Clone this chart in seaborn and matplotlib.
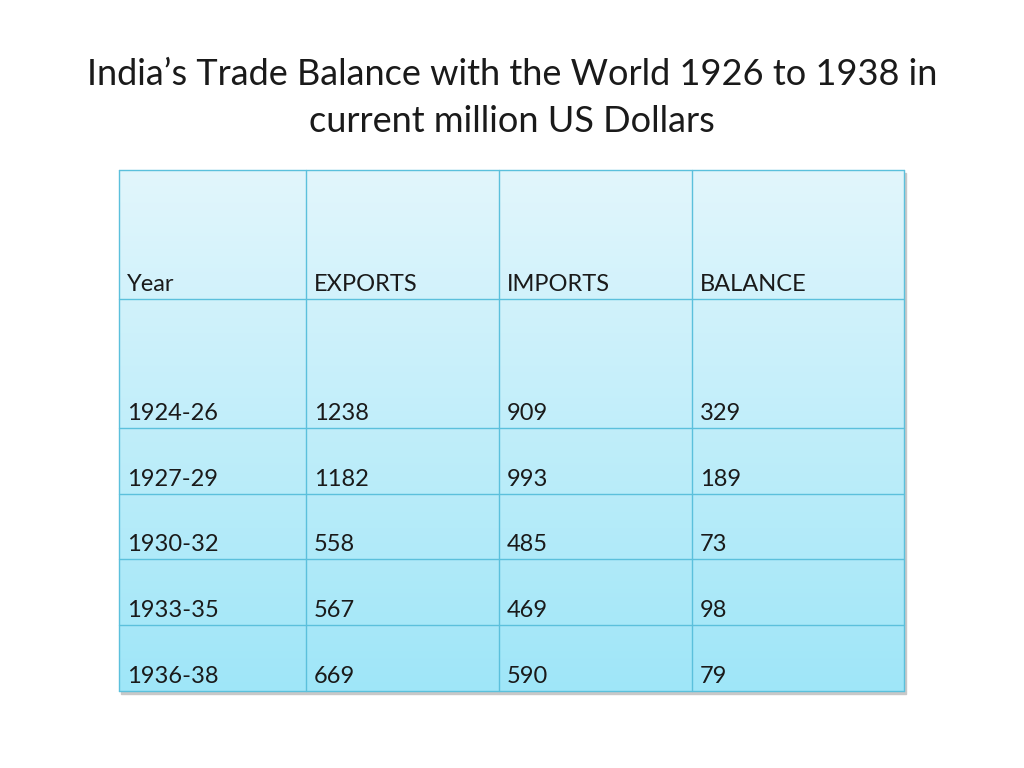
import numpy as np
import matplotlib.pyplot as plt
import seaborn as sns

# Table data
years = ["1924-26", "1927-29", "1930-32", "1933-35", "1936-38"]
exports = [1238, 1182, 558, 567, 669]
imports = [909, 993, 485, 469, 590]
balance = [329, 189, 73, 98, 79]
headers = ["Year", "EXPORTS", "IMPORTS", "BALANCE"]
title = "India\u2019s Trade Balance with the World 1926 to 1938 in\ncurrent million US Dollars"

sns.set_theme(style = "white", font = "Lato")

fig = plt.figure(figsize = (10.24, 7.68), dpi = 100)
ax = fig.add_axes([0, 0, 1, 1])
ax.set_xlim(0, 1024)
ax.set_ylim(768, 0)
ax.axis("off")

# Layout (pixels)
col_x = [119, 306, 499, 692, 904]
row_y = [170, 299, 428, 494, 559, 625, 691]

# Shadow + gradient fill
ax.add_patch(plt.Rectangle((col_x[0] + 2, row_y[0] + 3), col_x[-1] - col_x[0], row_y[-1] - row_y[0],
                           color = "#c8c8c8", zorder = 0))
grad = np.linspace(0, 1, 256).reshape(-1, 1)
cmap = sns.blend_palette(["#e2f6fc", "#9fe6f8"], as_cmap = True)
ax.imshow(grad, cmap = cmap, aspect = "auto", zorder = 1,
          extent = (col_x[0], col_x[-1], row_y[-1], row_y[0]))

# Grid lines
for x in col_x:
    ax.plot([x, x], [row_y[0], row_y[-1]], color = "#5bc0dc", lw = 1, zorder = 2)
for y in row_y:
    ax.plot([col_x[0], col_x[-1]], [y, y], color = "#5bc0dc", lw = 1, zorder = 2)

# Cell text
rows = [headers] + [[y, str(e), str(i), str(b)] for y, e, i, b in zip(years, exports, imports, balance)]
for r, row in enumerate(rows):
    for c, val in enumerate(row):
        ax.text(col_x[c] + 8, row_y[r + 1] - 8, val, fontsize = 17, color = "#1a1a1a",
                ha = "left", va = "baseline", zorder = 3)

ax.text(512, 98, title, fontsize = 26, color = "#1a1a1a", ha = "center", va = "center",
        linespacing = 1.5)

fig.savefig("out.png", dpi = 100)
